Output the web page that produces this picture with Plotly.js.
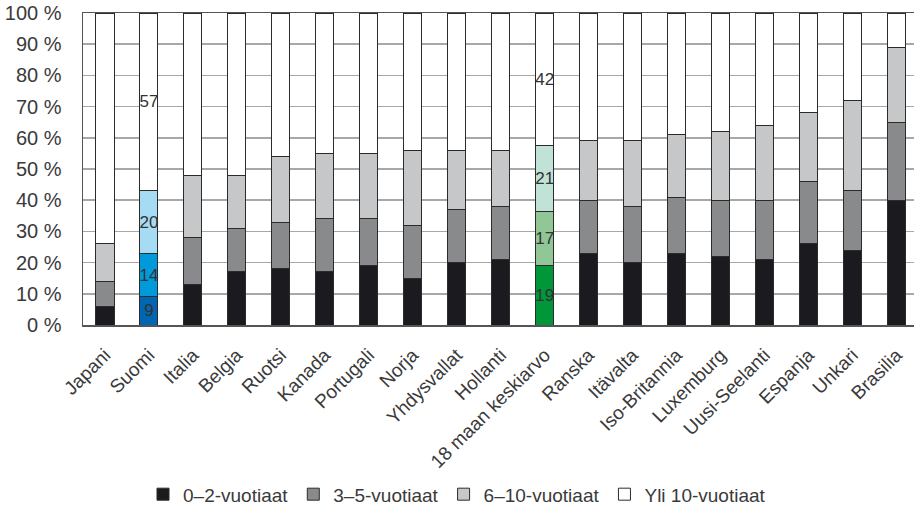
<!DOCTYPE html>
<html>
<head>
<meta charset="utf-8">
<script src="https://cdn.plot.ly/plotly-3.0.1.min.js"></script>
<style>html,body{margin:0;padding:0;background:#fff;}#chart{width:914px;height:507px;}</style>
</head>
<body>
<div id="chart"></div>
<script>
const categories = ["Japani","Suomi","Italia","Belgia","Ruotsi","Kanada","Portugali","Norja","Yhdysvallat","Hollanti","18 maan keskiarvo","Ranska","Itävalta","Iso-Britannia","Luxemburg","Uusi-Seelanti","Espanja","Unkari","Brasilia"];
const age0_2  = [6, 9, 13, 17, 18, 17, 19, 15, 20, 21, 19, 23, 20, 23, 22, 21, 26, 24, 40];
const age3_5  = [8, 14, 15, 14, 15, 17, 15, 17, 17, 17, 17, 17, 18, 18, 18, 19, 20, 19, 25];
const age6_10 = [12, 20, 20, 17, 21, 21, 21, 24, 19, 18, 21, 19, 21, 20, 22, 24, 22, 29, 24];
const ageOver10 = [74, 57, 52, 52, 46, 45, 45, 44, 44, 44, 42, 41, 41, 39, 38, 36, 32, 28, 11];
const seriesNames = ["0–2-vuotiaat","3–5-vuotiaat","6–10-vuotiaat","Yli 10-vuotiaat"];
const labelledCategories = ["Suomi","18 maan keskiarvo"];

const baseColors = ["#1b1a1f","#898a8c","#c6c7c9","#ffffff"];
const finlandColors = ["#0066b1","#0099da","#a5dbf3","#ffffff"];
const averageColors = ["#009639","#91c796","#c0e2d7","#ffffff"];

const seriesValues = [age0_2, age3_5, age6_10, ageOver10];

const traces = seriesValues.map((vals, s) => ({
  type: 'bar',
  name: seriesNames[s],
  x: categories,
  y: vals,
  text: vals.map((v, i) => labelledCategories.includes(categories[i]) ? String(v) : ''),
  textposition: 'inside',
  insidetextanchor: 'middle',
  textangle: 0,
  constraintext: 'none',
  textfont: {family: 'Liberation Sans, Arial, sans-serif', size: 17, color: '#333333'},
  marker: {
    color: categories.map(c => c === 'Suomi' ? finlandColors[s] : (c === '18 maan keskiarvo' ? averageColors[s] : baseColors[s])),
    line: {color: '#2b2b2b', width: 1}
  },
  hoverinfo: 'x+y+name'
}));

const layout = {
  width: 914, height: 507, autosize: false,
  margin: {l: 83, r: 0, t: 13, b: 182, pad: 0},
  barmode: 'stack',
  barnorm: 'percent',
  bargap: 0.59,
  paper_bgcolor: '#ffffff',
  plot_bgcolor: '#ffffff',
  font: {family: 'Liberation Sans, Arial, sans-serif', color: '#3a3a3a'},
  showlegend: true,
  legend: {
    orientation: 'h', x: 0.5, xanchor: 'center', xref: 'container',
    y: 0.025, yanchor: 'middle', yref: 'container',
    font: {size: 19, color: '#3a3a3a'},
    itemwidth: 30, tracegroupgap: 0,
    traceorder: 'normal'
  },
  xaxis: {
    type: 'category',
    range: [-0.5, 18.4],
    tickangle: -45,
    tickfont: {size: 19, color: '#3a3a3a'},
    showgrid: false,
    showline: true, linecolor: '#555555', linewidth: 1.5, mirror: true,
    ticks: '', ticklabelstandoff: 10,
    fixedrange: true
  },
  yaxis: {
    range: [0, 100],
    dtick: 10,
    ticksuffix: ' %',
    tickfont: {size: 20, color: '#3a3a3a'},
    showgrid: true, gridcolor: '#a8a8a8', gridwidth: 1.5,
    showline: true, linecolor: '#555555', linewidth: 1.5,
    zeroline: false,
    ticks: '', ticklabelstandoff: 16,
    fixedrange: true
  }
};

Plotly.newPlot('chart', traces, layout, {displayModeBar: false, staticPlot: true});
</script>
</body>
</html>
